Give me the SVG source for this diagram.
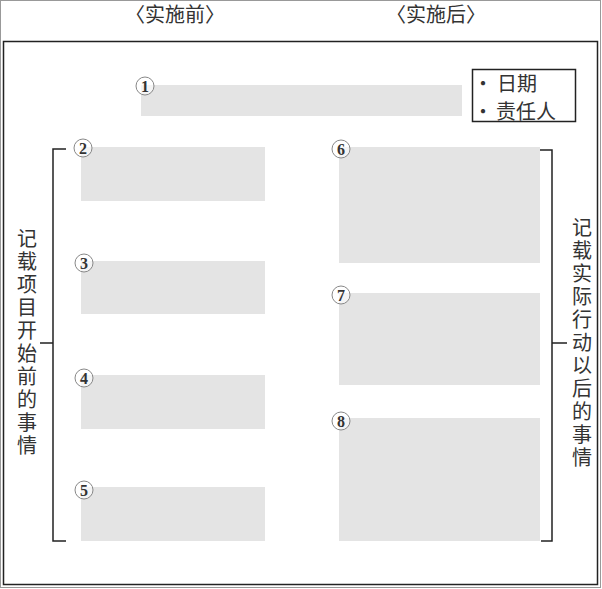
<svg xmlns="http://www.w3.org/2000/svg" width="602" height="589" viewBox="0 0 602 589">
<style>
.cjk{font-family:"Noto Sans CJK SC","Noto Sans CJK JP",sans-serif;fill:#333;}
.box{fill:#e4e4e4;}
.num circle{fill:#fff;fill-opacity:0.6;stroke:#888;stroke-width:1;}
.num text{font-family:"Liberation Serif",serif;font-size:16px;font-weight:bold;fill:#333;text-anchor:middle;}
.br{fill:none;stroke:#222;stroke-width:1.5;}
.vt{font-family:"Noto Sans CJK SC","Noto Sans CJK JP",sans-serif;fill:#333;font-size:20px;writing-mode:vertical-rl;letter-spacing:3px;}
</style>
<rect x="0.5" y="0.5" width="600" height="587" fill="#fff" stroke="#999" stroke-width="1"/>
<rect x="3.5" y="41.5" width="594" height="543" fill="none" stroke="#222" stroke-width="1.5"/>
<g id="headers">
<text class="cjk" x="175" y="22" font-size="20" text-anchor="middle">〈实施前〉</text>
<text class="cjk" x="436" y="22" font-size="20" text-anchor="middle">〈实施后〉</text>
</g>
<g id="legend">
<rect x="472.5" y="69.5" width="103" height="52" fill="#fff" stroke="#222" stroke-width="1.5"/>
<text class="cjk" x="483" y="91" font-size="20" text-anchor="middle">·</text>
<text class="cjk" x="497" y="91" font-size="20">日期</text>
<text class="cjk" x="483" y="119" font-size="20" text-anchor="middle">·</text>
<text class="cjk" x="496" y="119" font-size="20">责任人</text>
</g>
<g id="node1"><rect class="box" x="141" y="85" width="321" height="31"/><g class="num"><circle cx="145" cy="86" r="9"/><text x="145" y="91.5">1</text></g></g>
<g id="node2"><rect class="box" x="81" y="147" width="184" height="54"/><g class="num"><circle cx="83" cy="148" r="9"/><text x="83" y="153.5">2</text></g></g>
<g id="node3"><rect class="box" x="81" y="261" width="184" height="53"/><g class="num"><circle cx="84" cy="263" r="9"/><text x="84" y="268.5">3</text></g></g>
<g id="node4"><rect class="box" x="81" y="375" width="184" height="54"/><g class="num"><circle cx="84" cy="378" r="9"/><text x="84" y="383.5">4</text></g></g>
<g id="node5"><rect class="box" x="81" y="487" width="184" height="54"/><g class="num"><circle cx="84" cy="490" r="9"/><text x="84" y="495.5">5</text></g></g>
<g id="node6"><rect class="box" x="339" y="147" width="201" height="116"/><g class="num"><circle cx="341" cy="149" r="9"/><text x="341" y="154.5">6</text></g></g>
<g id="node7"><rect class="box" x="339" y="293" width="201" height="92"/><g class="num"><circle cx="341" cy="295" r="9"/><text x="341" y="300.5">7</text></g></g>
<g id="node8"><rect class="box" x="339" y="418" width="201" height="123"/><g class="num"><circle cx="341" cy="421" r="9"/><text x="341" y="426.5">8</text></g></g>
<g id="connectors">
<path class="br" d="M66 149 H53 V541 H66 M53 343 H40"/>
<path class="br" d="M540 150 H552 V541 H541 M552 343 H567"/>
</g>
<g id="label-left">
<text class="vt" x="27" y="228">记载项目开始前的事情</text>
</g>
<g id="label-right">
<text class="vt" x="582" y="217">记载实际行动以后的事情</text>
</g>
</svg>
